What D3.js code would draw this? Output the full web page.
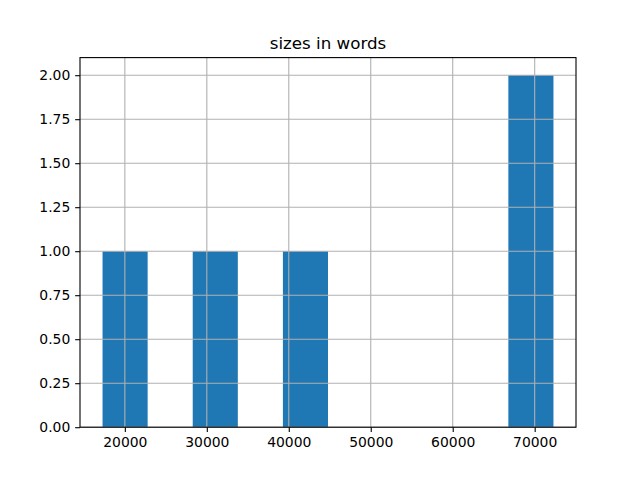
<!DOCTYPE html>
<html><head><meta charset="utf-8">
<script src="https://cdn.jsdelivr.net/npm/d3@7"></script>
<style>body{margin:0;background:#fff}svg{display:block}text{font-family:"DejaVu Sans",sans-serif;fill:#000}</style>
</head><body>
<script>
const title = "sizes in words";
const minValue = 17280;
const maxValue = 72290;
const counts = [1, 0, 1, 0, 1, 0, 0, 0, 0, 2];
const xTicks = [20000, 30000, 40000, 50000, 60000, 70000];
const yTicks = [0, 0.25, 0.5, 0.75, 1.0, 1.25, 1.5, 1.75, 2.0];

const W = 640, H = 480;
const m = {left: 80, right: 64, top: 57.6, bottom: 52.8};
const binW = (maxValue - minValue) / counts.length;
const bins = counts.map((c, i) => ({x0: minValue + i * binW, x1: minValue + (i + 1) * binW, count: c}));
const span = maxValue - minValue;
const x = d3.scaleLinear().domain([minValue - 0.05 * span, maxValue + 0.05 * span]).range([m.left, W - m.right]);
const yMax = d3.max(counts) * 1.05;
const y = d3.scaleLinear().domain([0, yMax]).range([H - m.bottom, m.top]);

const svg = d3.select("body").append("svg").attr("width", W).attr("height", H);

svg.append("g").selectAll("rect").data(bins.filter(b => b.count > 0)).join("rect")
  .attr("x", d => x(d.x0)).attr("width", d => x(d.x1) - x(d.x0))
  .attr("y", d => y(d.count)).attr("height", d => y(0) - y(d.count))
  .attr("fill", "#1f77b4");

// grid (above bars)
const grid = svg.append("g").attr("stroke", "#b0b0b0").attr("stroke-width", 1.1);
xTicks.forEach(t => grid.append("line").attr("x1", x(t)).attr("x2", x(t)).attr("y1", m.top).attr("y2", H - m.bottom));
yTicks.forEach(t => grid.append("line").attr("x1", m.left).attr("x2", W - m.right).attr("y1", y(t)).attr("y2", y(t)));

const xAxis = d3.axisBottom(x).tickValues(xTicks).tickFormat(d3.format("d")).tickSize(4.86).tickPadding(4.86);
const yAxis = d3.axisLeft(y).tickValues(yTicks).tickFormat(d3.format(".2f")).tickSize(4.86).tickPadding(4.86);
const gx = svg.append("g").attr("transform", `translate(0,${H - m.bottom})`).call(xAxis);
const gy = svg.append("g").attr("transform", `translate(${m.left},0)`).call(yAxis);
[gx, gy].forEach(g => {
  g.select(".domain").remove();
  g.selectAll(".tick line").attr("stroke", "#000").attr("stroke-width", 1.1);
  g.selectAll(".tick text").attr("font-size", 13.9).attr("font-family", "DejaVu Sans").attr("fill", "#000");
});

svg.append("rect").attr("x", m.left).attr("y", m.top).attr("width", W - m.left - m.right).attr("height", H - m.top - m.bottom)
  .attr("fill", "none").attr("stroke", "#000").attr("stroke-width", 1.1);

svg.append("text").attr("x", (m.left + W - m.right) / 2).attr("y", m.top - 8.3).attr("text-anchor", "middle")
  .attr("font-size", 16.7).text(title);
</script>
</body></html>
